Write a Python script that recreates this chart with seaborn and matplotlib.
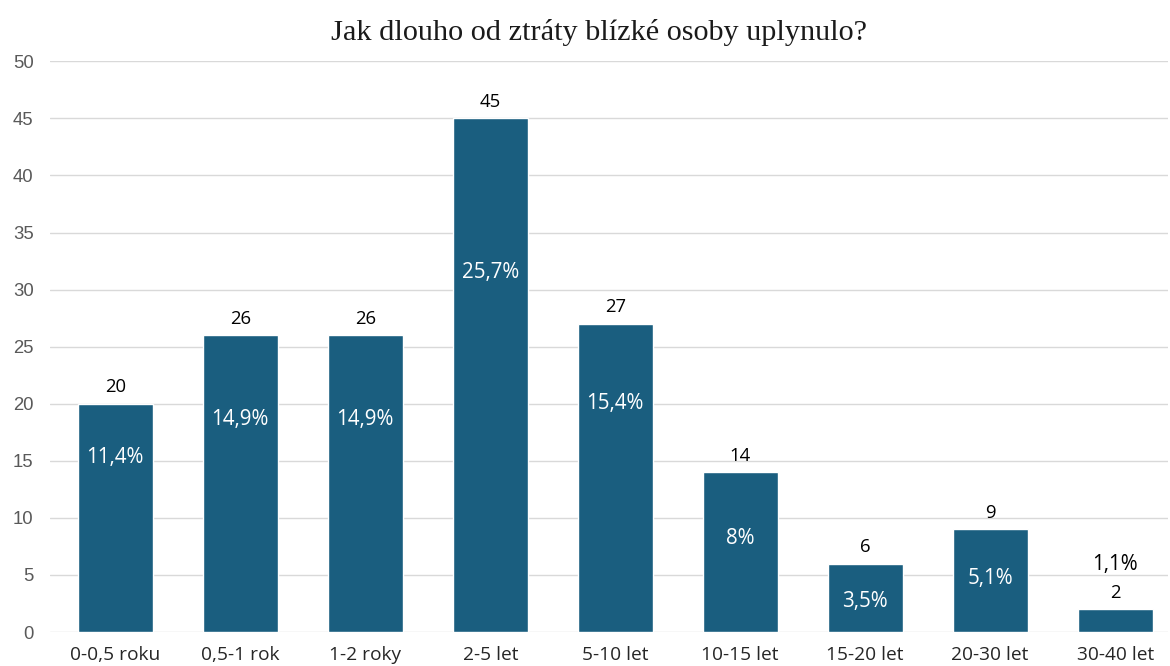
import numpy as np
import pandas as pd
import seaborn as sns
import matplotlib.pyplot as plt

# data
kategorie = ['0-0,5 roku', '0,5-1 rok', '1-2 roky', '2-5 let', '5-10 let',
             '10-15 let', '15-20 let', '20-30 let', '30-40 let']
pocty = [20, 26, 26, 45, 27, 14, 6, 9, 2]
procenta = ['11,4%', '14,9%', '14,9%', '25,7%', '15,4%', '8%', '3,5%', '5,1%', '1,1%']

# where the percent labels sit (y in data units)
pct_y = [15.3, 18.6, 18.6, 31.5, 20.0, 8.2, 2.7, 4.7, 5.9]

df = pd.DataFrame({'kat': kategorie, 'n': pocty})

sns.set_style('white')
fig = plt.figure(figsize=(11.7, 6.66), dpi=100)
ax = fig.add_axes([0.043, 0.051, 0.955, 0.857])

barva = '#1a5e7f'
sns.barplot(data=df, x='kat', y='n', color=barva, width=0.6, saturation=1, ax=ax, zorder=3)

ax.set_ylim(0, 50)
ax.set_xlim(-0.52, 8.42)
ax.set_yticks(np.arange(0, 51, 5))
ax.grid(axis='y', color='#d9d9d9', lw=1, zorder=0)
ax.set_axisbelow(True)
for s in ax.spines.values():
    s.set_visible(False)

ax.set_xlabel('')
ax.set_ylabel('')
ax.tick_params(axis='y', length=0, labelsize=13.3, labelcolor='#595959', pad=12)
ax.tick_params(axis='x', length=0, labelsize=13.8, labelcolor='#262626', pad=10)
for t in ax.get_xticklabels():
    t.set_family('Open Sans')
for t in ax.get_yticklabels():
    t.set_family('Liberation Sans')

# counts above bars, percentages inside
for i, (n, p) in enumerate(zip(pocty, procenta)):
    ax.annotate(str(n), (i, n), xytext=(0, 12), textcoords='offset points',
                ha='center', va='center', fontsize=13.3, family='Open Sans', color='#000000')
    barva_txt = 'white' if pct_y[i] < n else '#000000'
    ax.text(i, pct_y[i], p, ha='center', va='center', fontsize=14.8,
            family='Open Sans', color=barva_txt)

fig.suptitle('Jak dlouho od ztráty blízké osoby uplynulo?', family='Liberation Serif',
             fontsize=21.8, x=0.512, y=0.972, va='top', color='#1a1a1a')

fig.savefig('out.png', dpi=100)
